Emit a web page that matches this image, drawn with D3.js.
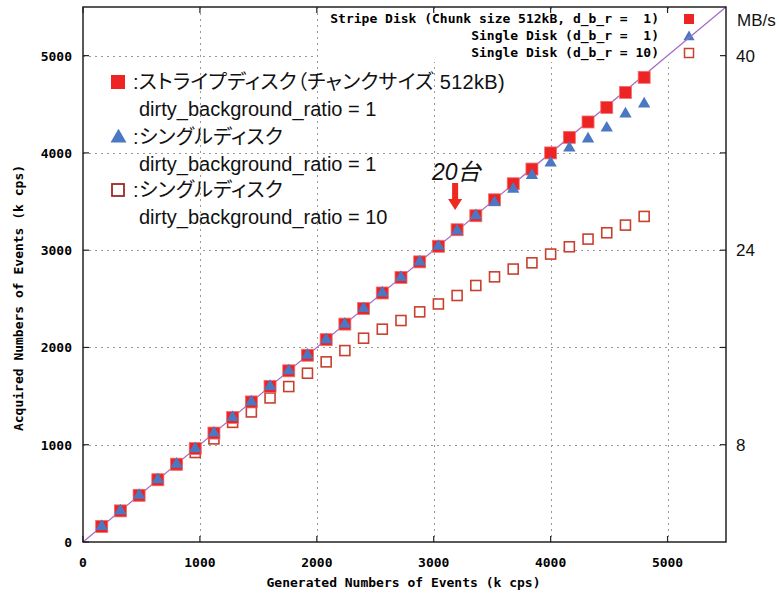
<!DOCTYPE html>
<html><head><meta charset="utf-8">
<script src="https://cdn.jsdelivr.net/npm/d3@7"></script>
<style>body{margin:0;background:#fff}svg{display:block}</style>
</head><body>
<script>
// ---- data ----
const generated = [160,320,480,640,800,960,1120,1280,1440,1600,1760,1920,2080,2240,2400,2560,2720,2880,3040,3200,3360,3520,3680,3840,4000,4160,4320,4480,4640,4800];
const stripeDbr1 = [160,320,480,640,800,960,1120,1280,1440,1600,1760,1920,2080,2240,2400,2560,2720,2880,3040,3210,3354,3518,3683,3834,4000,4160,4318,4468,4622,4777];
const singleDbr1 = [160,320,480,640,800,960,1120,1280,1440,1600,1760,1920,2080,2240,2400,2560,2720,2880,3040,3198,3354,3490,3628,3768,3896,4050,4143,4256,4400,4503];
const singleDbr10 = [160,320,480,640,795,920,1060,1230,1337,1481,1598,1735,1852,1968,2095,2188,2277,2366,2447,2534,2637,2726,2806,2870,2960,3035,3114,3179,3258,3347];
const xTicks = [0,1000,2000,3000,4000,5000];
const yTicks = [0,1000,2000,3000,4000,5000];
const mbTicks = [8,24,40];
const refLine = [0,5500];
const keyLabels = ["Stripe Disk (Chunk size 512kB, d_b_r =  1)","Single Disk (d_b_r =  1)","Single Disk (d_b_r = 10)"];
const jpLegend = [
  [":ストライプディスク（チャンクサイズ 512kB)","dirty_background_ratio = 1"],
  [":シングルディスク","dirty_background_ratio = 1"],
  [":シングルディスク","dirty_background_ratio = 10"]
];
const note = "20台";
const axisTitles = {x:"Generated Numbers of Events (k cps)", y:"Acquired Numbers of Events (k cps)", right:"MB/s"};

// ---- layout ----
const W=779,H=594, L=83, R=726, T=7, B=542;
const RED="#ee2424", BLUE="#4a78c2", HOLLOW="#c8402e", PURPLE="#a569c6";
const mono = "'DejaVu Sans Mono', monospace";

const svg = d3.select("body").append("svg").attr("width",W).attr("height",H);
svg.append("rect").attr("width",W).attr("height",H).attr("fill","#fff");

const x = d3.scaleLinear().domain([0,5500]).range([L,R]);
const y = d3.scaleLinear().domain([0,5500]).range([B,T]);
const yMB = d3.scaleLinear().domain([0,44]).range([B,T]);

// grid
const grid = svg.append("g").attr("stroke","#999").attr("stroke-width",1).attr("stroke-dasharray","2,4");
grid.selectAll(".gx").data(xTicks.filter(d=>d>0)).join("line")
  .attr("x1",d=>Math.round(x(d))+0.5).attr("x2",d=>Math.round(x(d))+0.5).attr("y1",T).attr("y2",B);
grid.selectAll(".gy").data(yTicks.filter(d=>d>0)).join("line")
  .attr("y1",d=>Math.round(y(d))+0.5).attr("y2",d=>Math.round(y(d))+0.5).attr("x1",L).attr("x2",R);

// key box (opaque)
const keyG = svg.append("g");
keyG.append("rect").attr("x",318).attr("y",T+3).attr("width",R-318-2).attr("height",52).attr("fill","#fff");

// reference line y = x
svg.append("path").datum(refLine)
  .attr("d", d3.line().x(d=>x(d)).y(d=>y(d)))
  .attr("stroke",PURPLE).attr("stroke-width",1.2).attr("fill","none");

// markers
const sq = 12;
svg.append("g").selectAll("rect").data(generated).join("rect")
  .attr("x",(d,i)=>x(d)-sq/2+1).attr("y",(d,i)=>y(singleDbr10[i])-sq/2+1)
  .attr("width",sq-2).attr("height",sq-2).attr("fill","#fff").attr("stroke",HOLLOW).attr("stroke-width",1.6);
svg.append("g").selectAll("rect").data(generated).join("rect")
  .attr("x",(d,i)=>x(d)-sq/2).attr("y",(d,i)=>y(stripeDbr1[i])-sq/2)
  .attr("width",sq).attr("height",sq).attr("fill",RED).attr("stroke","#f07070").attr("stroke-width",0.8);
const tri = d3.symbol().type(d3.symbolTriangle).size(66);
svg.append("g").selectAll("path").data(generated).join("path")
  .attr("transform",(d,i)=>`translate(${x(d)},${y(singleDbr1[i])})`)
  .attr("d",tri).attr("fill",BLUE);

// frame & ticks
svg.append("rect").attr("x",L).attr("y",T).attr("width",R-L).attr("height",B-T)
  .attr("fill","none").attr("stroke","#222").attr("stroke-width",1.5);
const tk = svg.append("g").attr("stroke","#222").attr("stroke-width",1.2);
xTicks.forEach(d=>{
  tk.append("line").attr("x1",x(d)).attr("x2",x(d)).attr("y1",B).attr("y2",B-6);
  tk.append("line").attr("x1",x(d)).attr("x2",x(d)).attr("y1",T).attr("y2",T+6);
});
yTicks.forEach(d=>{
  tk.append("line").attr("y1",y(d)).attr("y2",y(d)).attr("x1",L).attr("x2",L+6);
});
[8,16,24,32,40].forEach(d=>{
  tk.append("line").attr("y1",yMB(d)).attr("y2",yMB(d)).attr("x1",R).attr("x2",R-6);
});

// tick labels (gnuplot style)
svg.append("g").selectAll("text").data(xTicks).join("text")
  .attr("x",d=>x(d)).attr("y",B+25).attr("text-anchor","middle")
  .attr("font-family",mono).attr("font-weight","bold").attr("font-size",13).text(d=>d);
svg.append("g").selectAll("text").data(yTicks).join("text")
  .attr("x",L-11).attr("y",d=>y(d)+5).attr("text-anchor","end")
  .attr("font-family",mono).attr("font-weight","bold").attr("font-size",13).text(d=>d);
svg.append("text").attr("x",(L+R)/2-1).attr("y",587).attr("text-anchor","middle")
  .attr("font-family",mono).attr("font-weight","bold").attr("font-size",13).text(axisTitles.x);
svg.append("text").attr("transform",`translate(23,${298}) rotate(-90)`).attr("text-anchor","middle")
  .attr("font-family",mono).attr("font-weight","bold").attr("font-size",13).text(axisTitles.y);

// right axis (MB/s)
svg.append("g").selectAll("text").data(mbTicks).join("text")
  .attr("x",736).attr("y",d=>yMB(d)+6).attr("font-family","'Liberation Sans', Arial, sans-serif")
  .attr("font-size",17).attr("fill","#111").text(d=>d);
svg.append("text").attr("x",737).attr("y",26).attr("font-family","'Liberation Sans', Arial, sans-serif")
  .attr("font-size",17).attr("fill","#111").text(axisTitles.right);

// gnuplot key
const keyY = [19,36,53];
keyLabels.forEach((t,i)=>{
  keyG.append("text").attr("x",659).attr("y",keyY[i]+4).attr("text-anchor","end")
    .attr("font-family",mono).attr("font-weight","bold").attr("font-size",13).attr("xml:space","preserve").text(t);
});
keyG.append("rect").attr("x",684).attr("y",keyY[0]-5).attr("width",10).attr("height",10).attr("fill",RED);
keyG.append("path").attr("transform",`translate(689,${keyY[1]+1})`).attr("d",d3.symbol().type(d3.symbolTriangle).size(55)).attr("fill",BLUE);
keyG.append("rect").attr("x",684.5).attr("y",keyY[2]-4.5).attr("width",9).attr("height",9).attr("fill","#fff").attr("stroke",HOLLOW).attr("stroke-width",1.5);

// Japanese legend
const jp = svg.append("g").attr("font-family","'Liberation Sans', Arial, 'Noto Sans CJK JP', sans-serif").attr("font-size",20).attr("fill","#111");
const rowY = [82,137,190];
jpLegend.forEach((rows,i)=>{
  jp.append("text").attr("x",133).attr("y",rowY[i]+7).style("font-feature-settings","'palt'").style("letter-spacing","0.3px").text(rows[0]);
  jp.append("text").attr("x",139).attr("y",rowY[i]+34).text(rows[1]);
});
jp.append("rect").attr("x",111).attr("y",rowY[0]-7).attr("width",14).attr("height",14).attr("fill",RED);
jp.append("path").attr("transform",`translate(118.5,${rowY[1]+1})`).attr("d",d3.symbol().type(d3.symbolTriangle).size(110)).attr("fill",BLUE);
jp.append("rect").attr("x",112).attr("y",rowY[2]-6).attr("width",12).attr("height",12).attr("fill","#fff").attr("stroke","#a02828").attr("stroke-width",1.8);

// annotation: 20台 with arrow
svg.append("text").attr("x",432).attr("y",180).attr("font-family","'Liberation Sans', Arial, 'Noto Sans CJK JP', sans-serif")
  .attr("font-size",23).attr("font-style","italic").attr("fill","#111").text(note);
const ax = x(generated[19]) - 2;
svg.append("path").attr("d",`M${ax-3},183 L${ax+3},183 L${ax+3},199 L${ax+7},199 L${ax},210 L${ax-7},199 L${ax-3},199 Z`).attr("fill","#ee2a1e");
</script>
</body></html>
